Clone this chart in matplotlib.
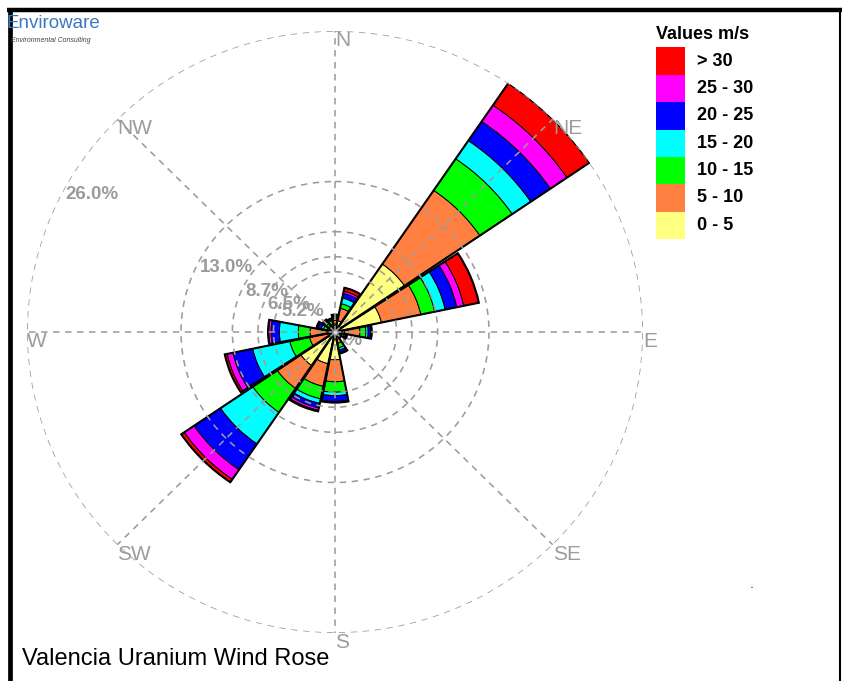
import numpy as np
import matplotlib
matplotlib.use('Agg')
import matplotlib.pyplot as plt

# ---------- data (frequency %, per direction, per speed class) ----------
directions = ['N', 'NNE', 'NE', 'ENE', 'E', 'ESE', 'SE', 'SSE',
              'S', 'SSW', 'SW', 'WSW', 'W', 'WNW', 'NW', 'NNW']
dir_angles = np.arange(16) * 22.5

speed_0_5 = [0.5, 1.0, 7.1, 4.0, 0.8, 0.3, 0.2, 0.4, 2.4, 2.8, 3.5, 0.5, 0.5, 0.3, 0.3, 0.3]
speed_5_10 = [0.5, 1.1, 7.7, 3.4, 1.3, 0.3, 0.2, 0.6, 1.9, 2.0, 2.4, 1.7, 1.6, 0.4, 0.3, 0.4]
speed_10_15 = [0.2, 0.4, 3.3, 1.2, 0.5, 0.2, 0.1, 0.4, 0.9, 1.1, 2.5, 1.7, 1.0, 0.3, 0.3, 0.3]
speed_15_20 = [0.1, 0.5, 1.9, 0.9, 0.2, 0.1, 0.05, 0.2, 0.3, 0.4, 3.3, 3.2, 1.6, 0.2, 0.2, 0.1]
speed_20_25 = [0.1, 0.4, 2.0, 1.0, 0.2, 0.1, 0.05, 0.2, 0.5, 0.4, 2.7, 1.7, 0.7, 0.3, 0.1, 0.05]
speed_25_30 = [0.05, 0.2, 1.7, 0.6, 0.05, 0.0, 0.0, 0.05, 0.05, 0.2, 1.0, 0.5, 0.2, 0.05, 0.05, 0.05]
speed_30 = [0.05, 0.3, 2.3, 1.3, 0.05, 0.05, 0.02, 0.05, 0.05, 0.1, 0.3, 0.2, 0.05, 0.05, 0.05, 0.0]

classes = [speed_0_5, speed_5_10, speed_10_15, speed_15_20, speed_20_25, speed_25_30, speed_30]
class_labels = ['0 - 5', '5 - 10', '10 - 15', '15 - 20', '20 - 25', '25 - 30', '> 30']
class_colors = ['#FFFF80', '#FF8040', '#00FF00', '#00FFFF', '#0000FF', '#FF00FF', '#FF0000']

ring_values = [26.0, 13.0, 26.0 / 3, 6.5, 5.2]
ring_labels = ['26.0%', '13.0%', '8.7%', '6.5%', '5.2%']
compass_labels = ['N', 'NE', 'E', 'SE', 'S', 'SW', 'W', 'NW']
rmax = 26.0

GRAY = '#9c9c9c'
W, H = 844, 681

fig = plt.figure(figsize=(W / 100, H / 100), dpi=100)
fig.patch.set_facecolor('white')

# overlay in pixel coordinates for frame / titles
ov = fig.add_axes([0, 0, 1, 1], zorder=0)
ov.set_xlim(0, W)
ov.set_ylim(H, 0)
ov.axis('off')

# polar axes, centre at (335, 332) px
cx, cy, rx, ry = 335, 332, 308, 301
ax = fig.add_axes([(cx - rx) / W, (H - cy - ry) / H, 2 * rx / W, 2 * ry / H],
                  projection='polar', zorder=1)
ax.set_aspect('auto')
ax.set_theta_zero_location('N')
ax.set_theta_direction(-1)
ax.set_ylim(0, rmax)
ax.grid(False)
ax.set_xticks([])
ax.set_yticks([])
ax.spines['polar'].set_visible(False)
ax.patch.set_alpha(0)

theta = np.radians(dir_angles)
width = np.radians(21.5)

# ring labels (under the petals)
lab_ang = np.radians(299)
for v, t in zip(ring_values, ring_labels):
    ax.text(lab_ang, v, t, ha='left', va='top', color=GRAY, fontsize=13.5,
            fontweight='bold', family='Liberation Sans', zorder=1)
ax.text(0, 0, '0%', ha='left', va='top', color=GRAY, fontsize=13.5,
        fontweight='bold', family='Liberation Sans', zorder=1)

# stacked petals
bottom = np.zeros(16)
for vals, col in zip(classes, class_colors):
    vals = np.array(vals)
    ax.bar(theta, vals, width=width, bottom=bottom, color=col,
           edgecolor='black', linewidth=0.7, zorder=2)
    bottom += vals
ax.bar(theta, bottom, width=width, bottom=0, facecolor='none',
       edgecolor='black', linewidth=1.5, zorder=2.5)

# dashed grid over the petals
tt = np.linspace(0, 2 * np.pi, 400)
for v in ring_values:
    ax.plot(tt, np.full_like(tt, v), color=GRAY, lw=1.15, ls=(0, (4, 3.5)), zorder=3)
for i, lab in enumerate(compass_labels):
    a = np.radians(i * 45)
    ax.plot([a, a], [0, rmax], color=GRAY, lw=1.15, ls=(0, (4, 3.5)), zorder=3)
    ax.text(a, rmax, lab, ha='left', va='top', color=GRAY, fontsize=15,
            family='Liberation Sans', zorder=4)
ax.plot([0], [0], 'o', ms=4, mfc='#d8d8d8', mec='#808080', mew=1, zorder=5)

# legend
ov.text(656, 26, 'Values m/s', ha='left', va='top', fontsize=13, fontweight='bold',
        family='Liberation Sans')
for i, (lab, col) in enumerate(zip(class_labels[::-1], class_colors[::-1])):
    y0 = 47.3 + i * 27.4
    ov.add_patch(plt.Rectangle((656, y0), 29, 27.4, facecolor=col, edgecolor='none'))
    ov.text(697, y0 + 13.7, lab, ha='left', va='center', fontsize=13,
            fontweight='bold', family='Liberation Sans')

# title and logo
ov.text(22, 659, 'Valencia Uranium Wind Rose', ha='left', va='center', fontsize=17,
        family='Liberation Sans')
ov.text(6, 23, 'Enviroware', ha='left', va='center', fontsize=13.5,
        color='#3a78c0', family='Liberation Sans')
ov.text(11, 40, 'Environmental Consulting', ha='left', va='center', fontsize=5,
        color='#444444', style='italic', family='Liberation Sans')
ov.text(752, 584, '.', ha='center', va='center', fontsize=9)

# frame
ov.plot([7, 842], [10, 10], color='black', lw=3.2, solid_capstyle='butt')
ov.plot([9.5, 9.5], [8, H], color='black', lw=3.4, solid_capstyle='butt')
ov.plot([839.5, 839.5], [8, H], color='black', lw=1.5, solid_capstyle='butt')

fig.savefig('out.png', dpi=100, facecolor='white')
